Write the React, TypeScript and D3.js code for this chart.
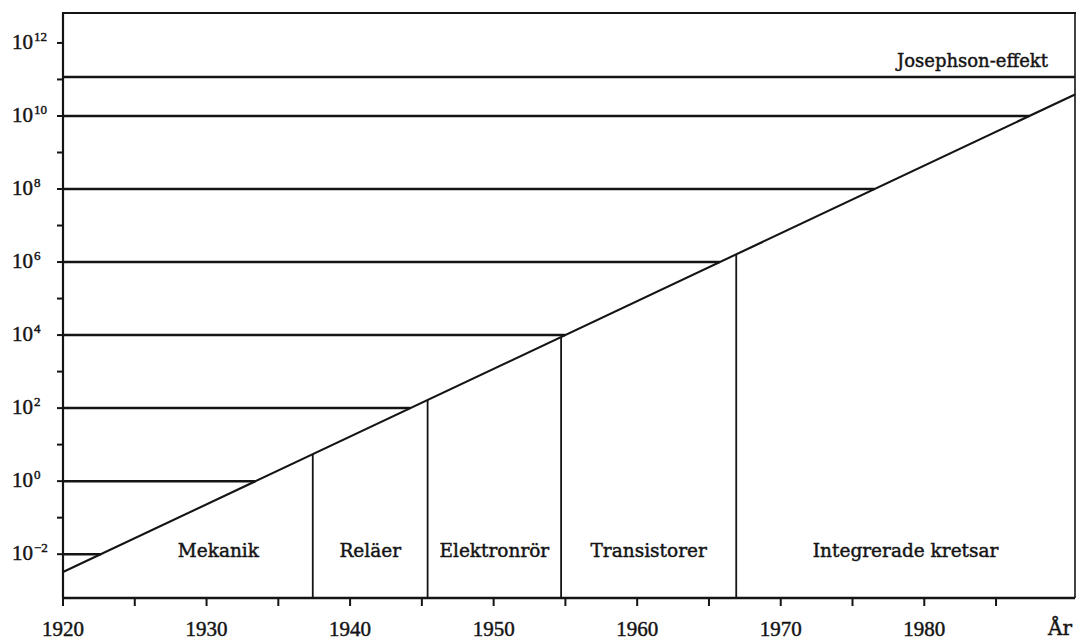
import * as React from "react";
import * as d3 from "d3";

// era boundaries (year a new technology takes over) and names
const eraBounds = [1937.4, 1945.4, 1954.7, 1966.9];
const eraNames = ["Mekanik", "Reläer", "Elektronrör", "Transistorer", "Integrerade kretsar"];

// operations per second: exponents that get a horizontal level line
const levelExponents = [-2, 0, 2, 4, 6, 8, 10];
const josephsonExponent = 11.07;
const josephsonLabel = "Josephson-effekt";

// trend line, start and end
const trendYears = [1920, 1990.5];
const trendExponents = [-2.49, 10.59];

// axis ticks
const decadeTicks = d3.range(-2, 13);
const yearTicks = d3.range(1920, 1990, 5);
const yearLabels = [1920, 1930, 1940, 1950, 1960, 1970, 1980];
const xAxisName = "År";

const W = 1076;
const H = 640;
const INK = "#141414";
const numFont = "'Liberation Serif', serif";
const wordFont = "'DejaVu Serif', serif";
// scanned print looks a bit heavier than the plain fonts
const inked = { stroke: INK, strokeWidth: 0.45 };

export default function App() {
  const x = d3.scaleLinear().domain([1920, 1990.5]).range([63, 1075]);
  const y = d3.scaleLog().domain([10 ** -3.2, 10 ** 12.82]).range([598, 13]);
  // exponent <-> year along the trend
  const trend = d3.scaleLinear().domain(trendYears).range(trendExponents);

  const [x0, x1] = x.range();
  const [yBottom, yTop] = y.range();

  const bounds = [1920, ...eraBounds, 1990.5];
  const labelY = 557;

  const trendLine = d3.line<number>()
    .x(d => x(d))
    .y(d => y(10 ** trend(d)));

  return (
    <svg width={W} height={H} style={{ position: "fixed", left: 0, top: 0, background: "#fff" }}>
      {/* frame */}
      <line x1={x0 - 1} x2={W} y1={yTop} y2={yTop} stroke={INK} strokeWidth={2.2} />
      <line x1={x0} x2={x0} y1={yTop} y2={yBottom} stroke={INK} strokeWidth={2.2} />
      <line x1={x0} x2={x1} y1={yBottom} y2={yBottom} stroke={INK} strokeWidth={2.4} />
      <line x1={x1} x2={x1} y1={yTop} y2={yBottom} stroke={INK} strokeWidth={1.6} />

      {/* y ticks + labels */}
      {decadeTicks.map(e => (
        <line key={"yt" + e} x1={x0 - 6} x2={x0} y1={y(10 ** e)} y2={y(10 ** e)} stroke={INK} strokeWidth={2} />
      ))}
      {decadeTicks.filter(e => e % 2 === 0).map(e => (
        <text key={"yl" + e} x={12} y={y(10 ** e) + 6} fontFamily={numFont} fontSize={21} fill={INK} {...inked}>
          10
          <tspan fontSize={13} dy={-8} dx={1}>{e < 0 ? "−" + Math.abs(e) : e}</tspan>
        </text>
      ))}

      {/* x ticks + labels */}
      {yearTicks.map(t => (
        <line key={"xt" + t} x1={x(t)} x2={x(t)} y1={yBottom} y2={yBottom + 8} stroke={INK} strokeWidth={2} />
      ))}
      {yearLabels.map(t => (
        <text key={"xl" + t} x={x(t)} y={636} textAnchor="middle" fontFamily={numFont} fontSize={21} fill={INK} {...inked}>
          {t}
        </text>
      ))}
      <text x={1072} y={635} textAnchor="end" fontFamily={wordFont} fontSize={20} fill={INK} {...inked}>{xAxisName}</text>

      {/* level lines up to the trend */}
      {levelExponents.map(e => (
        <line key={"lv" + e} x1={x0} x2={x(trend.invert(e))} y1={y(10 ** e)} y2={y(10 ** e)} stroke={INK} strokeWidth={2.5} />
      ))}
      <line x1={x0} x2={x1} y1={y(10 ** josephsonExponent)} y2={y(10 ** josephsonExponent)} stroke={INK} strokeWidth={2.5} />
      <text x={1048} y={y(10 ** josephsonExponent) - 10} textAnchor="end" fontFamily={wordFont} fontSize={18} fill={INK} {...inked}>
        {josephsonLabel}
      </text>

      {/* era boundaries */}
      {eraBounds.map(b => (
        <line key={"eb" + b} x1={x(b)} x2={x(b)} y1={yBottom} y2={y(10 ** trend(b))} stroke={INK} strokeWidth={1.8} />
      ))}

      {/* trend */}
      <path d={trendLine(trendYears) || ""} fill="none" stroke={INK} strokeWidth={2.1} />

      {/* era names, centered in the free space under the trend */}
      {eraNames.map((name, i) => {
        const crossYear = trend.invert(Math.log10(y.invert(labelY - 9)));
        const left = x(Math.max(bounds[i], crossYear));
        const right = x(bounds[i + 1]);
        return (
          <text key={name} x={(left + right) / 2 + (i === 0 ? 5 : 0)} y={labelY} textAnchor="middle" fontFamily={wordFont} fontSize={18.5} fill={INK} {...inked}>
            {name}
          </text>
        );
      })}
    </svg>
  );
}
